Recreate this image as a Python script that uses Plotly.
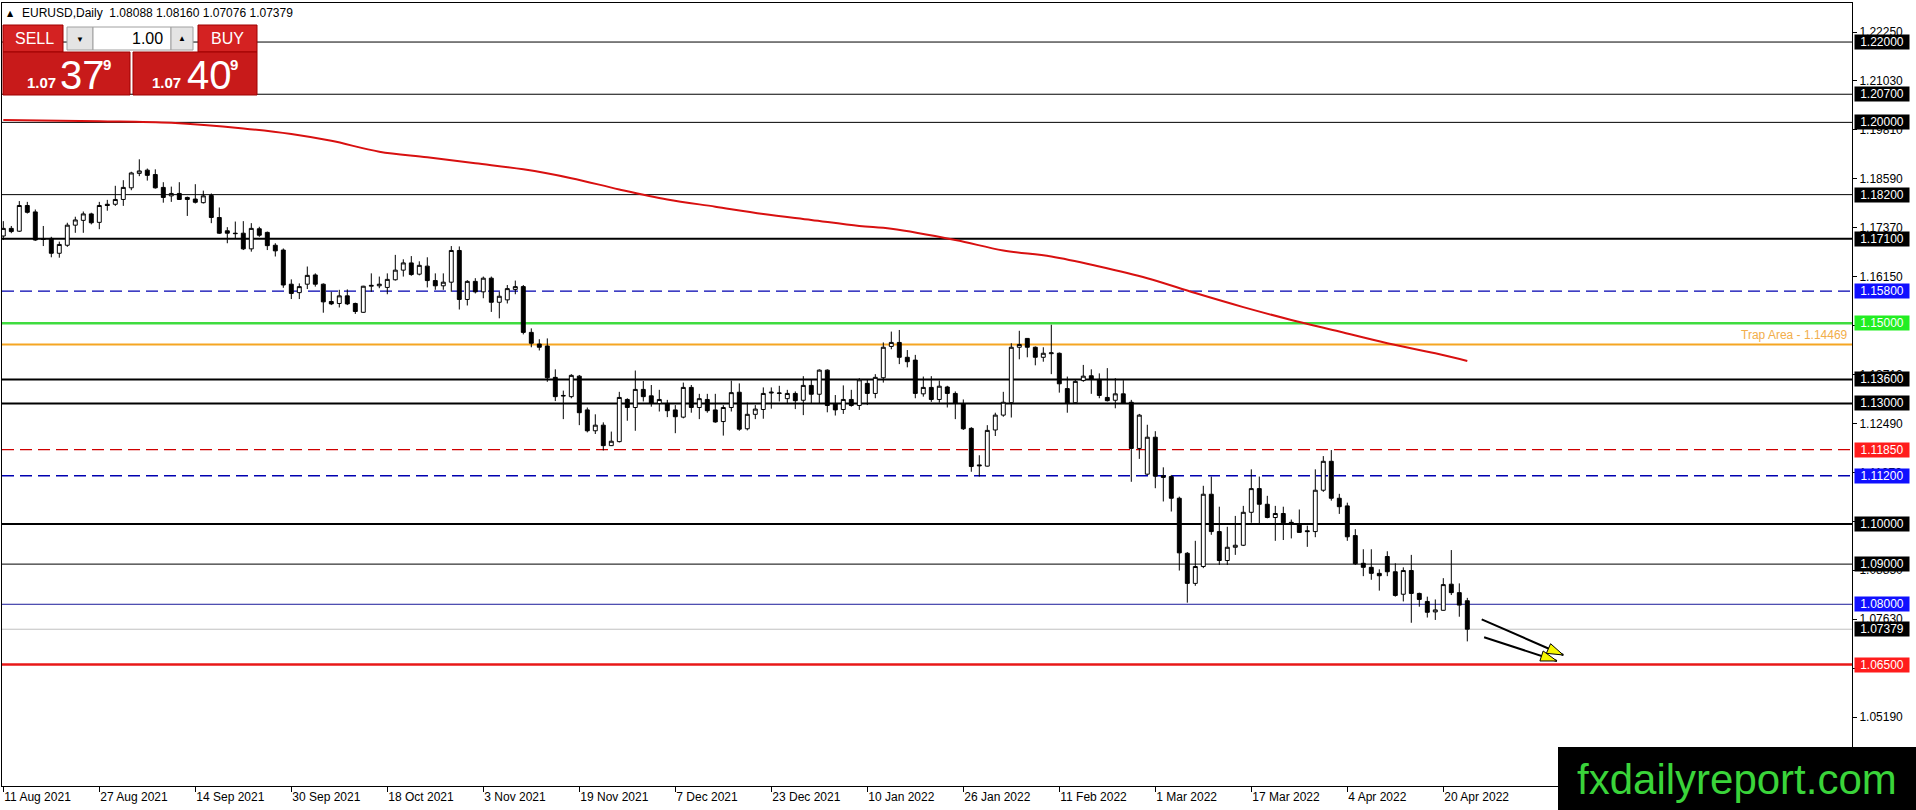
import math
import plotly.graph_objects as go

# EURUSD daily bars, 11 Aug 2021 -> 25 Apr 2022
opens = [1.1717, 1.1736, 1.1729, 1.1793, 1.1777, 1.1710, 1.1711, 1.1674, 1.1694, 1.1744,
         1.1756, 1.1772, 1.1751, 1.1796, 1.1796, 1.1808, 1.1837, 1.1873, 1.1881, 1.1870,
         1.1838, 1.1817, 1.1823, 1.1813, 1.1809, 1.1800, 1.1818, 1.1763, 1.1730, 1.1724,
         1.1724, 1.1685, 1.1735, 1.1726, 1.1694, 1.1682, 1.1597, 1.1576, 1.1597, 1.1620,
         1.1597, 1.1554, 1.1549, 1.1568, 1.1549, 1.1527, 1.1592, 1.1593, 1.1589, 1.1608,
         1.1632, 1.1650, 1.1622, 1.1642, 1.1606, 1.1593, 1.1602, 1.1681, 1.1559, 1.1604,
         1.1578, 1.1612, 1.1552, 1.1558, 1.1584, 1.1591, 1.1477, 1.1448, 1.1443, 1.1365,
         1.1320, 1.1317, 1.1368, 1.1284, 1.1232, 1.1246, 1.1195, 1.1205, 1.1310, 1.1290,
         1.1335, 1.1319, 1.1300, 1.1300, 1.1284, 1.1266, 1.1340, 1.1290, 1.1310, 1.1284,
         1.1255, 1.1290, 1.1328, 1.1237, 1.1273, 1.1285, 1.1326, 1.1325, 1.1312, 1.1325,
         1.1308, 1.1345, 1.1323, 1.1383, 1.1299, 1.1285, 1.1310, 1.1295, 1.1350, 1.1325,
         1.1364, 1.1442, 1.1452, 1.1415, 1.1408, 1.1324, 1.1340, 1.1310, 1.1341, 1.1325,
         1.1299, 1.1238, 1.1147, 1.1144, 1.1234, 1.1271, 1.1302, 1.1440, 1.1462, 1.1440,
         1.1415, 1.1424, 1.1425, 1.1337, 1.1302, 1.1357, 1.1369, 1.1360, 1.1315, 1.1308,
         1.1324, 1.1303, 1.1188, 1.1124, 1.1216, 1.1120, 1.1118, 1.1064, 1.0927, 1.0852,
         1.0894, 1.1074, 1.0981, 1.0909, 1.0942, 1.0947, 1.1029, 1.1088, 1.1049, 1.1016,
         1.1026, 1.1004, 1.0998, 1.0983, 1.0981, 1.1084, 1.1156, 1.1064, 1.1045, 1.0971,
         1.0902, 1.0892, 1.0877, 1.0919, 1.0881, 1.0825, 1.0884, 1.0827, 1.0807, 1.0781,
         1.0785, 1.0850, 1.0829, 1.08088]
highs = [1.1754, 1.1742, 1.1804, 1.1802, 1.1783, 1.1742, 1.1715, 1.1703, 1.1750, 1.1765,
         1.1778, 1.1775, 1.1802, 1.1807, 1.1842, 1.1856, 1.1877, 1.1908, 1.1885, 1.1883,
         1.1851, 1.1840, 1.1851, 1.1815, 1.1846, 1.1830, 1.1823, 1.1788, 1.1739, 1.1753,
         1.1754, 1.1749, 1.1740, 1.1728, 1.1699, 1.1686, 1.1609, 1.1599, 1.1641, 1.1624,
         1.1599, 1.1578, 1.1583, 1.1584, 1.1551, 1.1593, 1.1624, 1.1616, 1.1624, 1.1670,
         1.1659, 1.1667, 1.1654, 1.1664, 1.1624, 1.1624, 1.1692, 1.1691, 1.1607, 1.1612,
         1.1616, 1.1616, 1.1578, 1.1595, 1.1606, 1.1595, 1.1487, 1.1460, 1.1462, 1.1385,
         1.1332, 1.1373, 1.1371, 1.1290, 1.1273, 1.1253, 1.1230, 1.1329, 1.1313, 1.1382,
         1.1356, 1.1346, 1.1334, 1.1309, 1.1296, 1.1352, 1.1346, 1.1324, 1.1324, 1.1324,
         1.1296, 1.1357, 1.1350, 1.1302, 1.1296, 1.1340, 1.1340, 1.1344, 1.1334, 1.1330,
         1.1368, 1.1359, 1.1385, 1.1385, 1.1321, 1.1345, 1.1334, 1.1363, 1.1359, 1.1373,
         1.1452, 1.1479, 1.1483, 1.1433, 1.1421, 1.1367, 1.1368, 1.1357, 1.1344, 1.1330,
         1.1310, 1.1241, 1.1171, 1.1246, 1.1277, 1.1329, 1.1450, 1.1481, 1.1463, 1.1442,
         1.1440, 1.1496, 1.1427, 1.1367, 1.1359, 1.1396, 1.1385, 1.1375, 1.1388, 1.1363,
         1.1358, 1.1309, 1.1274, 1.1247, 1.1231, 1.1141, 1.1122, 1.1068, 1.0930, 1.0958,
         1.1095, 1.1118, 1.1043, 1.0993, 1.1020, 1.1045, 1.1136, 1.1118, 1.1070, 1.1045,
         1.1043, 1.1011, 1.1036, 1.0996, 1.1136, 1.1169, 1.1184, 1.1075, 1.1053, 1.0987,
         1.0937, 1.0937, 1.0887, 1.0932, 1.0902, 1.0892, 1.0923, 1.0829, 1.0819, 1.0812,
         1.0865, 1.0935, 1.0852, 1.08160]
lows = [1.1707, 1.1724, 1.1727, 1.1773, 1.1705, 1.1692, 1.1664, 1.1663, 1.1690, 1.1725,
        1.1725, 1.1746, 1.1734, 1.1780, 1.1792, 1.1792, 1.1831, 1.1866, 1.1855, 1.1835,
        1.1800, 1.1802, 1.1807, 1.1767, 1.1798, 1.1798, 1.1749, 1.1722, 1.1699, 1.1711,
        1.1682, 1.1678, 1.1715, 1.1682, 1.1666, 1.1588, 1.1560, 1.1560, 1.1585, 1.1591,
        1.1526, 1.1545, 1.1539, 1.1545, 1.1523, 1.1526, 1.1578, 1.1587, 1.1572, 1.1606,
        1.1616, 1.1618, 1.1619, 1.1589, 1.1583, 1.1583, 1.1578, 1.1534, 1.1544, 1.1574,
        1.1562, 1.1528, 1.1512, 1.1549, 1.1572, 1.1472, 1.1440, 1.1432, 1.1354, 1.1306,
        1.1261, 1.1313, 1.1246, 1.1228, 1.1224, 1.1183, 1.1194, 1.1203, 1.1257, 1.1232,
        1.1305, 1.1292, 1.1280, 1.1266, 1.1226, 1.1263, 1.1277, 1.1261, 1.1277, 1.1252,
        1.1220, 1.1280, 1.1232, 1.1233, 1.1261, 1.1262, 1.1287, 1.1305, 1.1299, 1.1286,
        1.1271, 1.1300, 1.1300, 1.1278, 1.1270, 1.1274, 1.1292, 1.1284, 1.1296, 1.1313,
        1.1352, 1.1435, 1.1398, 1.1390, 1.1313, 1.1317, 1.1304, 1.1302, 1.1290, 1.1261,
        1.1234, 1.1130, 1.1118, 1.1143, 1.1219, 1.1267, 1.1265, 1.1410, 1.1415, 1.1395,
        1.1404, 1.1373, 1.1327, 1.1277, 1.1300, 1.1354, 1.1324, 1.1313, 1.1305, 1.1288,
        1.1299, 1.1105, 1.1162, 1.1122, 1.1089, 1.1056, 1.1031, 1.0884, 1.0804, 1.0846,
        1.0890, 1.0973, 1.0898, 1.0898, 1.0923, 1.0945, 1.1003, 1.0999, 1.1014, 1.0958,
        1.0960, 1.0964, 1.0978, 1.0943, 1.0967, 1.1080, 1.1058, 1.1025, 1.0958, 1.0898,
        1.0870, 1.0861, 1.0834, 1.0870, 1.0819, 1.0807, 1.0754, 1.0794, 1.0767, 1.0761,
        1.0784, 1.0823, 1.0769, 1.07076]
closes = [1.1736, 1.1728, 1.1793, 1.1776, 1.1707, 1.1709, 1.1674, 1.1696, 1.1744, 1.1757,
          1.1772, 1.1750, 1.1793, 1.1793, 1.1808, 1.1838, 1.1874, 1.1879, 1.1868, 1.1837,
          1.1813, 1.1823, 1.1808, 1.1808, 1.1801, 1.1817, 1.1763, 1.1724, 1.1724, 1.1723,
          1.1685, 1.1736, 1.1719, 1.1693, 1.1680, 1.1595, 1.1574, 1.1591, 1.1619, 1.1597,
          1.1553, 1.1548, 1.1568, 1.1548, 1.1529, 1.1592, 1.1594, 1.1597, 1.1609, 1.1632,
          1.1650, 1.1621, 1.1644, 1.1606, 1.1593, 1.1602, 1.1681, 1.1559, 1.1604, 1.1578,
          1.1612, 1.1552, 1.1567, 1.1586, 1.1591, 1.1477, 1.1450, 1.1440, 1.1364, 1.1317,
          1.1319, 1.1370, 1.1277, 1.1232, 1.1246, 1.1195, 1.1206, 1.1315, 1.1290, 1.1335,
          1.1317, 1.1300, 1.1310, 1.1282, 1.1267, 1.1340, 1.1290, 1.1312, 1.1282, 1.1254,
          1.1290, 1.1327, 1.1236, 1.1273, 1.1286, 1.1325, 1.1328, 1.1326, 1.1325, 1.1307,
          1.1345, 1.1323, 1.1383, 1.1295, 1.1284, 1.1310, 1.1295, 1.1359, 1.1325, 1.1365,
          1.1440, 1.1452, 1.1415, 1.1404, 1.1325, 1.1340, 1.1310, 1.1343, 1.1325, 1.1300,
          1.1237, 1.1143, 1.1145, 1.1233, 1.1271, 1.1303, 1.1440, 1.1447, 1.1440, 1.1415,
          1.1425, 1.1426, 1.1349, 1.1301, 1.1355, 1.1368, 1.1360, 1.1320, 1.1307, 1.1324,
          1.1300, 1.1188, 1.1271, 1.1216, 1.1119, 1.1116, 1.1064, 1.0928, 1.0852, 1.0894,
          1.1074, 1.0981, 1.0909, 1.0942, 1.0947, 1.1029, 1.1088, 1.1049, 1.1016, 1.1026,
          1.1003, 1.0999, 1.0979, 1.0981, 1.1084, 1.1156, 1.1064, 1.1043, 1.0968, 1.0901,
          1.0892, 1.0877, 1.0871, 1.0881, 1.0822, 1.0884, 1.0827, 1.0812, 1.0780, 1.0786,
          1.0849, 1.0829, 1.0798, 1.07379]

# red moving average, sampled along the line (bar index, price)
ma_bar = [0, 12, 21, 30, 36, 41, 47, 53, 59, 65, 71, 77, 83, 89, 95,
          101, 107, 111, 119, 125, 131, 137, 143, 149, 155, 161, 167, 173, 179, 183]
ma_val = [1.2006, 1.2003, 1.1999, 1.1985, 1.1971, 1.1954, 1.1927, 1.1913, 1.1898, 1.1883,
          1.1861, 1.1833, 1.1808, 1.1790, 1.1772, 1.1757, 1.1742, 1.1735, 1.1707, 1.1681,
          1.1666, 1.1641, 1.1612, 1.1575, 1.1540, 1.1508, 1.1479, 1.1450, 1.1425, 1.1406]

date_ticks = [0, 12, 24, 36, 48, 60, 72, 84, 96, 108, 120, 132, 144, 156, 168, 180]
date_labels = ["11 Aug 2021", "27 Aug 2021", "14 Sep 2021", "30 Sep 2021", "18 Oct 2021",
               "3 Nov 2021", "19 Nov 2021", "7 Dec 2021", "23 Dec 2021", "10 Jan 2022",
               "26 Jan 2022", "11 Feb 2022", "1 Mar 2022", "17 Mar 2022", "4 Apr 2022",
               "20 Apr 2022"]

price_ticks = [1.22250, 1.21030, 1.19810, 1.18590, 1.17370, 1.16150, 1.14930, 1.13710,
               1.12490, 1.11270, 1.10050, 1.08850, 1.07630, 1.06410, 1.05190]

# support / resistance levels drawn on the chart
level_prices = [1.22000, 1.20700, 1.20000, 1.18200, 1.17100, 1.15800, 1.15000, 1.13600,
                1.13000, 1.11850, 1.11200, 1.10000, 1.09000, 1.08000, 1.06500]
trap_price = 1.14469
sell_price = "1.07", "37", "9"
buy_price = "1.07", "40", "9"

# arrows drawn by hand: (bar, price) start -> end
arrow_starts = [(184.8, 1.07626), (185.1, 1.07178)]
arrow_ends = [(195.0, 1.06737), (194.2, 1.06588)]

# ---- styles ----
BLACK, BLUE, GREEN, RED = "#000000", "#0000b0", "#3fdc3f", "#e81818"
level_line = [BLACK, BLACK, BLACK, BLACK, BLACK, BLUE, GREEN, BLACK,
              BLACK, "#d00000", BLUE, BLACK, BLACK, "#1a1a9a", RED]
level_width = [1, 1, 1, 1, 2, 1.3, 2.5, 2, 2, 1.3, 1.3, 2, 1, 1, 2.5]
level_dash = ["solid"] * 5 + ["12px,6px", "solid", "solid", "solid", "12px,6px",
                              "12px,6px", "solid", "solid", "solid", "solid"]
box_color = [BLACK, BLACK, BLACK, BLACK, BLACK, "#1010ff", "#22ee22", BLACK,
             BLACK, "#ff1c1c", "#1010ff", BLACK, BLACK, "#1010ff", "#ff1c1c"]

FONT = "Liberation Sans"
W, H = 1916, 810
L_PX, R_PX, T_PX, B_PX = 2, 1852, 3, 786
BAR_PX = 8
Y_TOP, Y_BOT = 1.22972, 1.03475
PX_PER_PRICE = (B_PX - T_PX) / (Y_TOP - Y_BOT)


def px(x):
    return (x - L_PX) / (R_PX - L_PX)


def py(y):
    return (B_PX - y) / (B_PX - T_PX)


bars = list(range(len(opens)))

fig = go.Figure()

fig.add_trace(go.Candlestick(
    x=bars, open=opens, high=highs, low=lows, close=closes,
    increasing=dict(line=dict(color="black", width=1), fillcolor="white"),
    decreasing=dict(line=dict(color="black", width=1), fillcolor="black"),
    whiskerwidth=0, hoverinfo="skip", showlegend=False,
))

fig.add_trace(go.Scatter(
    x=ma_bar, y=ma_val, mode="lines", line=dict(color="#d81010", width=2, shape="spline"),
    hoverinfo="skip", showlegend=False,
))

shapes = []
annotations = []

# level lines + price boxes on the axis
for p, c, w, d, bc in zip(level_prices, level_line, level_width, level_dash, box_color):
    shapes.append(dict(type="line", xref="paper", yref="y", x0=0, x1=1, y0=p, y1=p,
                       line=dict(color=c, width=w, dash=d), layer="below"))
    annotations.append(dict(xref="paper", yref="y", x=1, y=p, xanchor="left", yanchor="middle",
                            xshift=2, text=f"{p:.5f}", showarrow=False, bgcolor=bc,
                            width=54, height=14, borderpad=0,
                            font=dict(family=FONT, size=12, color="white")))

# trap area line
shapes.append(dict(type="line", xref="paper", yref="y", x0=0, x1=1, y0=trap_price, y1=trap_price,
                   line=dict(color="#f5a623", width=2), layer="below"))
annotations.append(dict(xref="paper", yref="y", x=1, y=trap_price, xanchor="right", yanchor="bottom",
                        xshift=-2, yshift=0, text=f"Trap Area - {trap_price:.5f}", showarrow=False,
                        font=dict(family=FONT, size=12, color="#f2ae4a")))

# current bid line
bid = closes[-1]
shapes.append(dict(type="line", xref="paper", yref="y", x0=0, x1=1, y0=bid, y1=bid,
                   line=dict(color="#c0c0c0", width=1), layer="below"))
annotations.append(dict(xref="paper", yref="y", x=1, y=bid, xanchor="left", yanchor="middle",
                        xshift=2, text=f"{bid:.5f}", showarrow=False, bgcolor=BLACK,
                        width=54, height=14, borderpad=0,
                        font=dict(family=FONT, size=12, color="white")))

# arrows: black shafts with yellow heads
shaft_x, shaft_y, tip_x, tip_y, tip_angle = [], [], [], [], []
for (x0, y0), (x1, y1) in zip(arrow_starts, arrow_ends):
    shaft_x += [x0, x1, None]
    shaft_y += [y0, y1, None]
    dxp = (x1 - x0) * BAR_PX
    dyp = -(y1 - y0) * PX_PER_PRICE
    tip_x.append(x1)
    tip_y.append(y1)
    tip_angle.append(math.degrees(math.atan2(dxp, -dyp)))
fig.add_trace(go.Scatter(x=shaft_x, y=shaft_y, mode="lines", line=dict(color="black", width=2),
                         hoverinfo="skip", showlegend=False))
fig.add_trace(go.Scatter(x=tip_x, y=tip_y, mode="markers",
                         marker=dict(symbol="arrow", size=17, angle=tip_angle, color="#f5f500",
                                     line=dict(color="black", width=1)),
                         hoverinfo="skip", showlegend=False))

# header line
annotations.append(dict(xref="paper", yref="paper", x=px(5), y=py(13), xanchor="left",
                        yanchor="middle", text="▲", showarrow=False,
                        font=dict(family="DejaVu Sans", size=8, color="black")))
annotations.append(dict(xref="paper", yref="paper", x=px(20), y=py(13), xanchor="left",
                        yanchor="middle", showarrow=False,
                        text=f"EURUSD,Daily  {opens[-1]:.5f} {highs[-1]:.5f} {lows[-1]:.5f} {closes[-1]:.5f}",
                        font=dict(family=FONT, size=12, color="black")))


# one-click trading panel
def box(x0, y0, x1, y1, fill, line="#9e0000"):
    shapes.append(dict(type="rect", xref="paper", yref="paper", x0=px(x0), x1=px(x1),
                       y0=py(y1), y1=py(y0), fillcolor=fill, line=dict(color=line, width=1),
                       layer="above"))


def label(x, y, text, size, color="white", anchor="center", bold=False):
    annotations.append(dict(xref="paper", yref="paper", x=px(x), y=py(y), xanchor=anchor,
                            yanchor="middle", text=f"<b>{text}</b>" if bold else text,
                            showarrow=False, font=dict(family=FONT, size=size, color=color)))


box(3, 25, 63, 52, "#d42222")
box(67, 27, 93, 50, "#e4e4e4", "#a0a0a0")
box(93, 27, 171, 50, "white", "#a0a0a0")
box(171, 27, 193, 50, "#e4e4e4", "#a0a0a0")
box(198, 25, 257, 52, "#d42222")
box(3, 52, 130, 95, "#c81a1a")
box(133, 52, 257, 95, "#c81a1a")
label(34, 38, "SELL", 16)
label(227, 38, "BUY", 16)
label(80, 39, "▼", 8, "black")
label(182, 38, "▲", 8, "black")
label(165, 38, "1.00", 16, "black", "right")
label(25, 82, sell_price[0], 15, anchor="left", bold=True)
label(58, 75, sell_price[1], 40, anchor="left")
label(101, 65, sell_price[2], 15, anchor="left", bold=True)
label(150, 82, buy_price[0], 15, anchor="left", bold=True)
label(185, 75, buy_price[1], 40, anchor="left")
label(228, 65, buy_price[2], 15, anchor="left", bold=True)

# watermark
shapes.append(dict(type="rect", xref="paper", yref="paper", x0=px(1558), x1=px(1920),
                   y0=py(814), y1=py(747), fillcolor="black", line=dict(width=0), layer="above"))
annotations.append(dict(xref="paper", yref="paper", x=px(1737), y=py(779), xanchor="center",
                        yanchor="middle", text="fxdailyreport.com", showarrow=False,
                        font=dict(family=FONT, size=42, color="#3ad43a")))

fig.update_layout(
    width=W, height=H,
    margin=dict(l=L_PX, r=W - R_PX, t=T_PX, b=H - B_PX),
    paper_bgcolor="white", plot_bgcolor="white",
    showlegend=False, hovermode=False,
    shapes=shapes, annotations=annotations,
    xaxis=dict(
        range=[(L_PX - 3.3) / BAR_PX, (R_PX - 3.3) / BAR_PX],
        rangeslider=dict(visible=False),
        tickvals=date_ticks, ticktext=date_labels,
        ticks="outside", ticklen=5, tickcolor="black",
        ticklabelposition="outside right",
        tickfont=dict(family=FONT, size=12, color="black"),
        showgrid=False, zeroline=False,
        showline=True, linecolor="black", linewidth=1, mirror=True,
    ),
    yaxis=dict(
        range=[Y_BOT, Y_TOP], side="right",
        tickvals=price_ticks, ticktext=[f"{v:.5f}" for v in price_ticks],
        ticks="outside", ticklen=4, tickcolor="black",
        tickfont=dict(family=FONT, size=12, color="black"),
        showgrid=False, zeroline=False,
        showline=True, linecolor="black", linewidth=1, mirror=True,
    ),
)

fig.write_html("out.html", config={"displayModeBar": False},
               post_script="document.body.style.margin='0px';")
